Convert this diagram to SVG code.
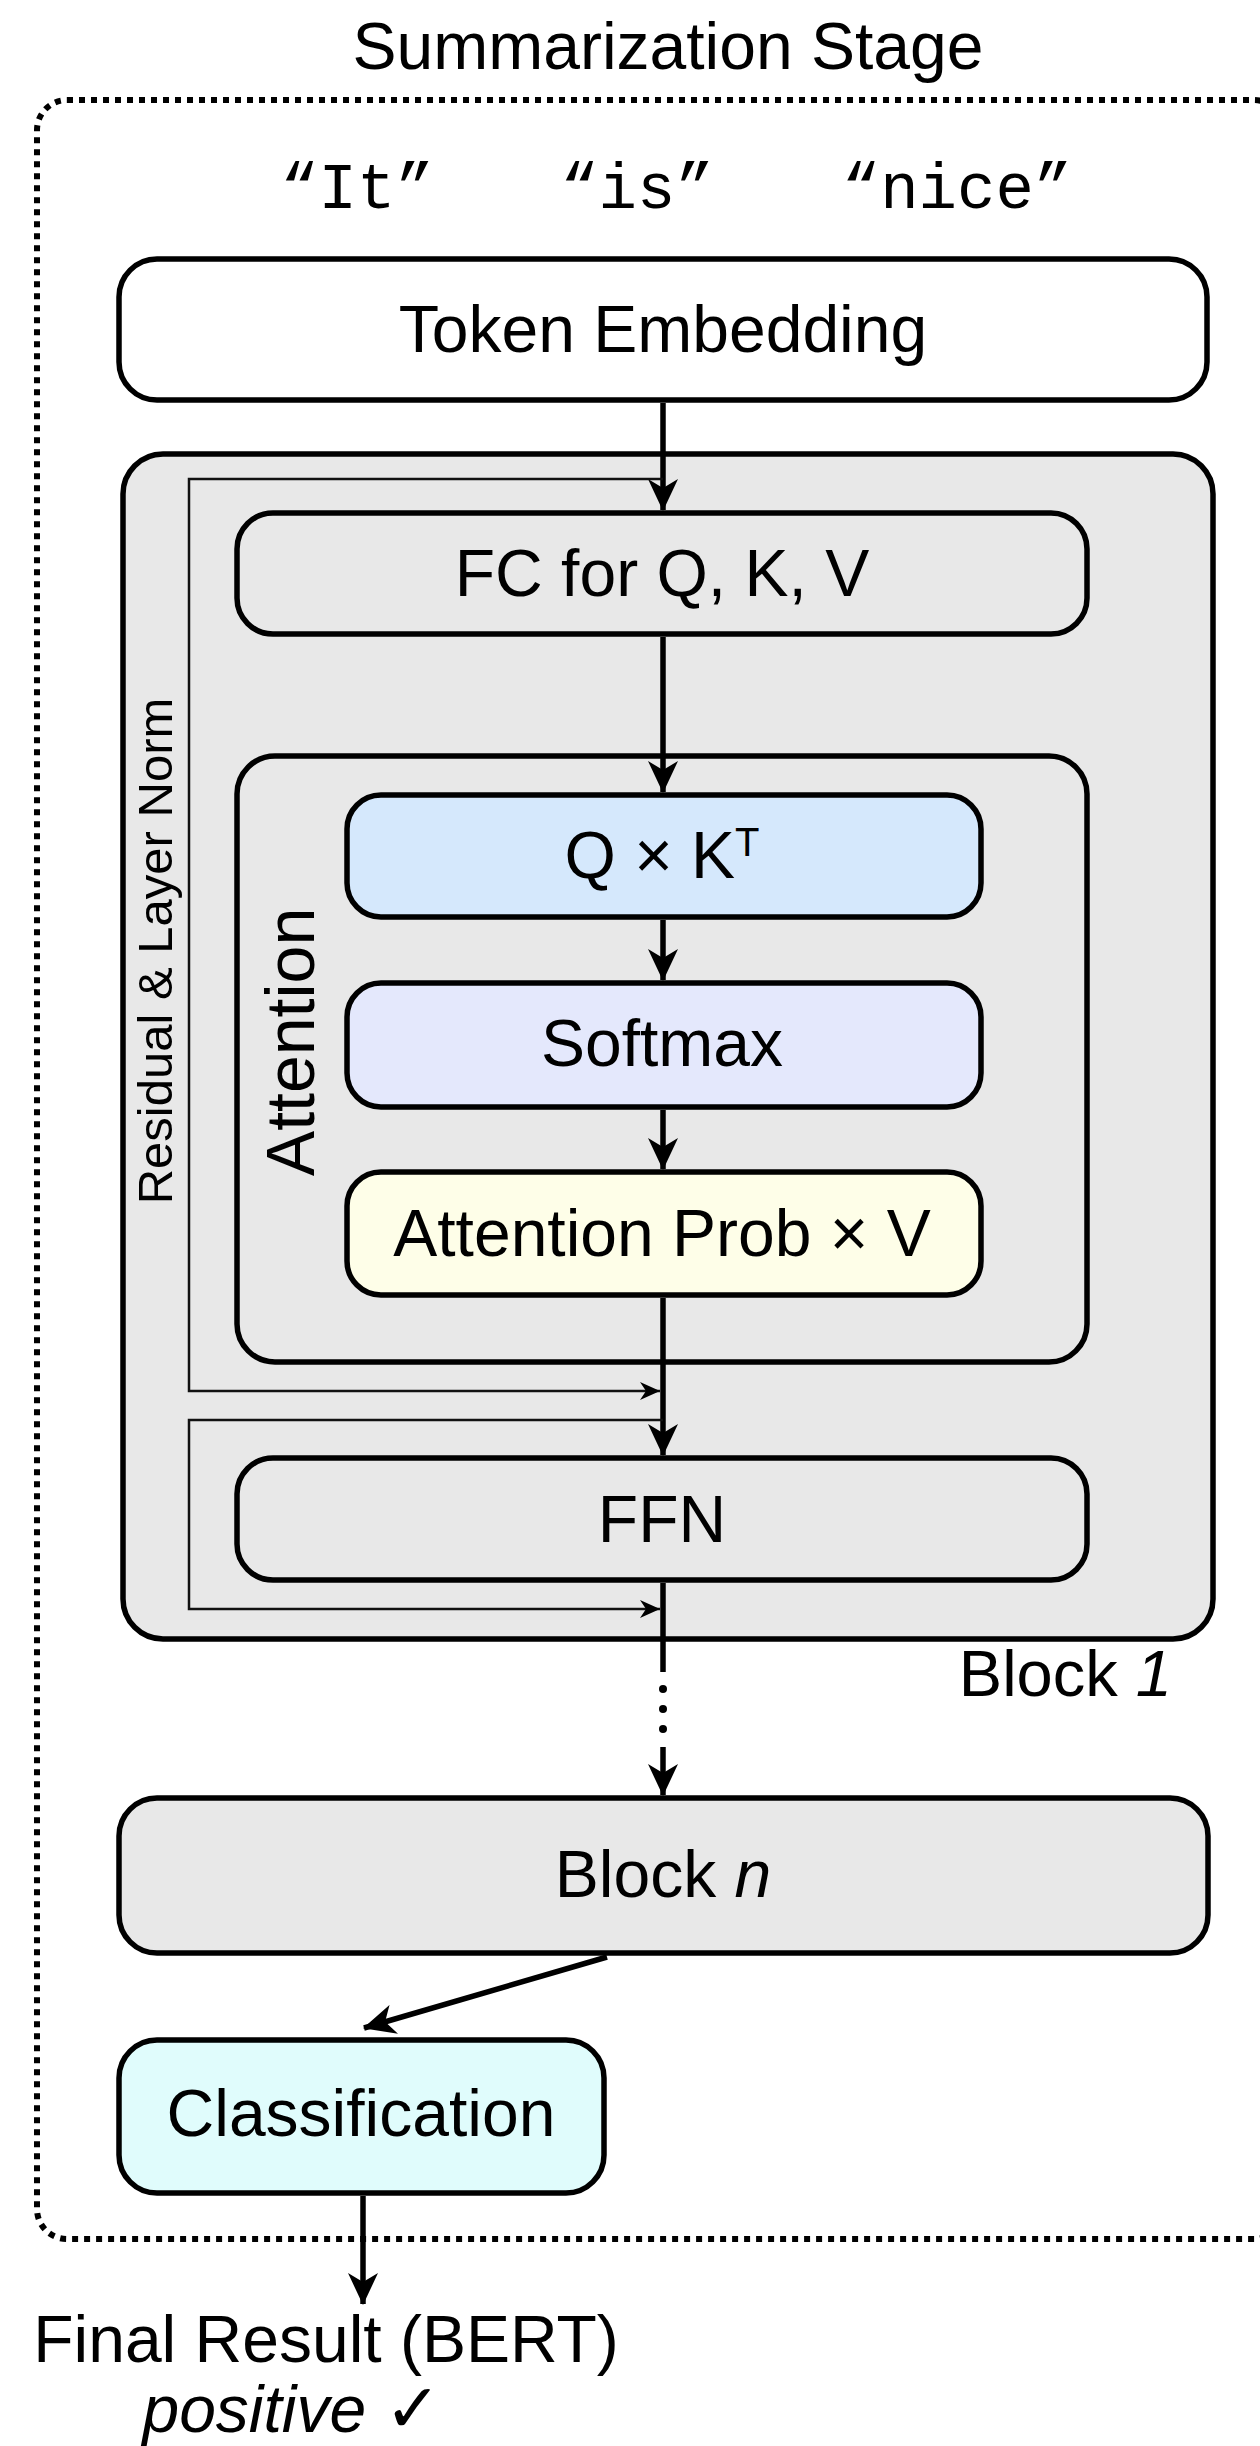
<svg xmlns="http://www.w3.org/2000/svg" width="1260" height="2446" viewBox="0 0 1260 2446">
<defs>
<marker id="arr" markerUnits="userSpaceOnUse" viewBox="0 0 32 30" refX="31" refY="15" markerWidth="32" markerHeight="30" orient="auto"><path d="M0,0 L32,15 L0,30 L9,15 Z" fill="#000"/></marker>
<marker id="arrs" markerUnits="userSpaceOnUse" viewBox="0 0 20 18" refX="20" refY="9" markerWidth="20" markerHeight="18" orient="auto"><path d="M0,0 L20,9 L0,18 L6,9 Z" fill="#000"/></marker>
<style>
.box{stroke:#000;stroke-width:5.5}
.grey{fill:#e8e8e8}
.t{font-family:"Liberation Sans",Arial,Helvetica,sans-serif;fill:#000}
.lbl{font-size:66px;text-anchor:middle}
.mono{font-family:"Liberation Mono","Courier New",monospace;font-size:64px;text-anchor:middle;fill:#000}
.conn{stroke:#000;stroke-width:5.5;fill:none}
.res{stroke:#111;stroke-width:2.5;fill:none}
</style>
</defs>
<rect width="1260" height="2446" fill="#fff"/>

<g id="stage">
<rect x="37" y="100" width="1247" height="2139" rx="30" fill="none" stroke="#000" stroke-width="6" stroke-dasharray="6 6"/>
<text class="t" x="668" y="69" font-size="66" text-anchor="middle">Summarization Stage</text>
</g>

<g id="tokens">
<text class="mono" x="357" y="208">“It”</text>
<text class="mono" x="637" y="208">“is”</text>
<text class="mono" x="957" y="208">“nice”</text>
</g>

<g id="token-embedding">
<rect class="box" x="119" y="259" width="1088" height="141" rx="38" fill="#fff"/>
<text class="t lbl" x="663" y="352">Token Embedding</text>
</g>

<g id="block1">
<rect class="box grey" x="123" y="454" width="1090" height="1185" rx="40"/>
<text class="t" x="1172" y="1696" font-size="65" text-anchor="end">Block <tspan font-style="italic">1</tspan></text>
</g>

<g id="residual-label">
<text class="t" font-size="49" text-anchor="middle" transform="translate(172,951) rotate(-90)">Residual &amp; Layer Norm</text>
</g>

<g id="fc">
<rect class="box grey" x="237" y="513" width="850" height="121" rx="36"/>
<text class="t lbl" x="662" y="596">FC for Q, K, V</text>
</g>

<g id="attention">
<rect class="box grey" x="237" y="756" width="850" height="606" rx="38"/>
<text class="t" font-size="68" text-anchor="middle" transform="translate(314,1042) rotate(-90)">Attention</text>
</g>

<g id="qk">
<rect class="box" x="347" y="795" width="634" height="122" rx="34" fill="#d5e8fc"/>
<text class="t lbl" x="662" y="878">Q × K<tspan dy="-22" font-size="40">T</tspan></text>
</g>

<g id="softmax">
<rect class="box" x="347" y="983" width="634" height="124" rx="34" fill="#e4e8fc"/>
<text class="t lbl" x="662" y="1066">Softmax</text>
</g>

<g id="attn-prob">
<rect class="box" x="347" y="1172" width="634" height="123" rx="34" fill="#fefee8"/>
<text class="t lbl" x="662" y="1256">Attention Prob × V</text>
</g>

<g id="ffn">
<rect class="box grey" x="237" y="1458" width="850" height="122" rx="36"/>
<text class="t lbl" x="662" y="1542">FFN</text>
</g>

<g id="blockn">
<rect class="box grey" x="119" y="1798" width="1089" height="155" rx="38"/>
<text class="t lbl" x="663" y="1897">Block <tspan font-style="italic">n</tspan></text>
</g>

<g id="classification">
<rect class="box" x="119" y="2040" width="485" height="153" rx="38" fill="#e0fcfc"/>
<text class="t lbl" x="361" y="2136">Classification</text>
</g>

<g id="final-result">
<text class="t" x="326" y="2362" font-size="66" text-anchor="middle">Final Result (BERT)</text>
<text class="t" x="292" y="2432" font-size="66" text-anchor="middle"><tspan font-style="italic">positive</tspan> <tspan font-family="'DejaVu Sans',sans-serif" font-weight="bold" font-size="68">✓</tspan></text>
</g>

<g id="connectors">
<path class="conn" d="M663,403 V510" marker-end="url(#arr)"/>
<path class="res" d="M663,479 H189 V1391 H660" marker-end="url(#arrs)"/>
<path class="conn" d="M663,637 V792" marker-end="url(#arr)"/>
<path class="conn" d="M663,920 V980" marker-end="url(#arr)"/>
<path class="conn" d="M663,1110 V1169" marker-end="url(#arr)"/>
<path class="conn" d="M663,1298 V1455" marker-end="url(#arr)"/>
<path class="res" d="M663,1420 H189 V1609 H660" marker-end="url(#arrs)"/>
<path class="conn" d="M663,1583 V1672"/>
<circle cx="663" cy="1689" r="4"/>
<circle cx="663" cy="1709" r="4"/>
<circle cx="663" cy="1729" r="4"/>
<path class="conn" d="M663,1747 V1795" marker-end="url(#arr)"/>
<path class="conn" d="M607,1957 L364,2028" marker-end="url(#arr)"/>
<path class="conn" d="M363,2196 V2304" marker-end="url(#arr)"/>
</g>
</svg>
